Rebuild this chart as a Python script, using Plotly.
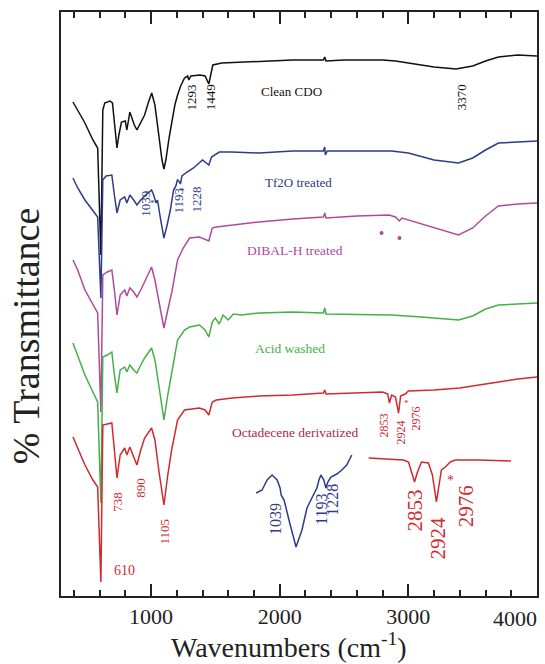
import plotly.graph_objects as go

# ---------------- data (y = relative % transmittance, offset per trace) -------------
BASE = 596  # helper: values below are read as heights

wn_black = [393, 430, 486, 548, 585, 610, 625, 640, 680, 700, 715, 735, 750, 770, 800, 812, 835, 850, 870, 890,
            915, 950, 980, 1005, 1030, 1060, 1085, 1100, 1115, 1140, 1160, 1185, 1206, 1230, 1260, 1285, 1293, 1310,
            1380, 1420, 1449, 1465, 1480, 1550, 1700, 1900, 2100, 2340, 2350, 2360, 2500, 2800, 2900, 3000, 3200,
            3370, 3500, 3600, 3700, 3850, 4000]
px_black = [102, 110, 123, 140, 148, 255, 110, 103, 101, 103, 120, 148, 135, 122, 121, 130, 112, 118, 125, 130,
            124, 115, 102, 93, 105, 135, 160, 169, 160, 138, 123, 105, 95, 86, 78, 76, 80, 76,
            75, 76, 84, 72, 65, 63, 62, 61, 60, 60, 57, 61, 60, 60, 61, 63, 67,
            69, 66, 61, 57, 55, 56]

wn_blue = [393, 430, 486, 548, 585, 610, 625, 650, 695, 715, 735, 760, 795, 812, 835, 865, 890, 920, 950, 1004,
           1020, 1039, 1050, 1075, 1100, 1125, 1150, 1175, 1193, 1205, 1215, 1228, 1240, 1280, 1330, 1400, 1449,
           1470, 1530, 1630, 1840, 2100, 2340, 2350, 2355, 2370, 2870, 3000, 3200, 3390, 3500, 3600, 3700, 3850, 4000]
px_blue = [178, 188, 200, 210, 217, 298, 180, 176, 175, 195, 213, 200, 197, 203, 195, 200, 205, 200, 196, 190,
           195, 203, 200, 220, 238, 225, 210, 190, 186, 180, 181, 184, 176, 172, 168, 160, 165,
           157, 152, 152, 153, 151, 151, 147, 155, 151, 151, 153, 160, 163, 158, 150, 143, 142, 141]

wn_purple = [393, 430, 486, 548, 585, 610, 625, 660, 695, 715, 735, 760, 795, 812, 835, 865, 890, 920, 950, 1004,
             1030, 1060, 1100, 1130, 1160, 1206, 1250, 1300, 1376, 1449, 1476, 1507, 1631, 1840, 2100, 2340, 2350,
             2360, 2600, 2850, 2900, 2930, 2950, 3100, 3300, 3390, 3500, 3600, 3700, 3850, 4000]
px_purple = [260, 270, 290, 305, 313, 412, 275, 272, 270, 290, 315, 295, 290, 296, 288, 292, 297, 290, 282, 267,
             280, 300, 328, 310, 293, 260, 248, 238, 237, 241, 228, 227, 225, 222, 219, 217, 213,
             218, 216, 215, 217, 221, 218, 224, 232, 235, 228, 216, 206, 204, 203]

wn_green = [393, 430, 486, 548, 585, 610, 625, 660, 695, 715, 735, 760, 795, 812, 835, 865, 890, 920, 950, 1004,
            1030, 1060, 1100, 1130, 1160, 1206, 1260, 1300, 1376, 1420, 1449, 1476, 1500, 1530, 1560, 1600, 1640,
            1700, 1840, 2100, 2340, 2350, 2360, 2870, 3100, 3390, 3500, 3600, 3700, 3850, 4000]
px_green = [343, 355, 375, 392, 402, 503, 357, 355, 352, 375, 393, 370, 367, 372, 365, 370, 373, 365, 358, 348,
            360, 385, 420, 395, 373, 340, 330, 327, 325, 330, 337, 322, 318, 324, 315, 320, 314,
            315, 313, 312, 313, 308, 314, 315, 317, 320, 316, 309, 305, 304, 303]

wn_red = [393, 430, 486, 548, 585, 610, 625, 660, 695, 715, 735, 760, 795, 812, 835, 865, 890, 920, 950, 1004,
          1030, 1060, 1100, 1130, 1160, 1206, 1260, 1376, 1420, 1449, 1476, 1507, 1631, 1840, 2100, 2340, 2350,
          2360, 2800, 2840, 2853, 2870, 2900, 2924, 2940, 2976, 3000, 3200, 3400, 3600, 3700, 3850, 4000]
px_red = [437, 448, 465, 480, 487, 582, 425, 424, 423, 450, 478, 455, 448, 455, 447, 457, 465, 450, 438, 428,
          440, 470, 505, 475, 450, 420, 410, 408, 410, 415, 402, 400, 398, 396, 395, 393, 390,
          394, 392, 394, 403, 395, 397, 413, 396, 394, 391, 390, 388, 384, 382, 379, 377]

# expanded insets (drawn on the same axes)
wn_inset_blue = [1817, 1863, 1902, 1941, 1980, 2003, 2011, 2034, 2072, 2127, 2173, 2212, 2250, 2274, 2289, 2305,
                 2320, 2343, 2359, 2374, 2398, 2444, 2483, 2521, 2560]
px_inset_blue = [493, 490, 480, 475, 480, 488, 495, 500, 520, 547, 530, 508, 498, 492, 488, 480,
                 475, 480, 488, 482, 477, 474, 470, 465, 455]
wn_inset_red = [2692, 2846, 2963, 3001, 3024, 3048, 3071, 3102, 3156, 3187, 3218, 3241, 3257, 3288, 3326, 3365,
                3543, 3798]
px_inset_red = [458, 459, 460, 462, 472, 482, 472, 462, 463, 475, 502, 482, 470, 467, 462, 460, 460, 461]

wn_dots = [2792, 2931]
px_dots = [233, 238]

x_ticks = [1000, 2000, 3000]
x_tick_text = ["1000", "2000", "3000"]


def h(vals):
    return [BASE - v for v in vals]


C_BLACK = "#111111"
C_BLUE = "#2e3a8c"
C_PURPLE = "#b04a9e"
C_GREEN = "#44b049"
C_RED = "#d02a2e"
C_LABEL_RED = "#b02848"
FONT = "Liberation Serif"

fig = go.Figure()
for wn, px, col in [(wn_black, px_black, C_BLACK), (wn_blue, px_blue, C_BLUE), (wn_purple, px_purple, C_PURPLE),
                    (wn_green, px_green, C_GREEN), (wn_red, px_red, C_RED),
                    (wn_inset_blue, px_inset_blue, C_BLUE), (wn_inset_red, px_inset_red, C_RED)]:
    fig.add_trace(go.Scatter(x=wn, y=h(px), mode="lines", line=dict(color=col, width=1.5),
                             showlegend=False, hoverinfo="skip"))
fig.add_trace(go.Scatter(x=wn_dots, y=h(px_dots), mode="markers",
                         marker=dict(color=C_PURPLE, size=4), showlegend=False))


def ann(x, py, text, color, size=13, angle=0):
    fig.add_annotation(x=x, y=BASE - py, text=text, showarrow=False, textangle=angle,
                       font=dict(family=FONT, size=size, color=color), xanchor="center", yanchor="middle")


def wx(px):
    return 300 + (px - 61) * 7.74


ann(wx(292), 91, "Clean CDO", C_BLACK, 13)
ann(wx(192), 97, "1293", C_BLACK, 13, -90)
ann(wx(211), 97, "1449", C_BLACK, 13, -90)
ann(wx(463), 97, "3370", C_BLACK, 13, -90)

ann(wx(300), 182, "Tf2O treated", C_BLUE, 13)
ann(wx(145), 204, "1039", C_BLUE, 13, -90)
ann(wx(153), 203, "*", C_BLUE, 9)
ann(wx(178), 201, "1193", C_BLUE, 13, -90)
ann(wx(183), 191, "*", C_BLUE, 9)
ann(wx(197), 199, "1228", C_BLUE, 13, -90)

ann(wx(296), 250, "DIBAL-H treated", C_PURPLE, 13.5)
ann(wx(291), 348, "Acid washed", C_GREEN, 13.5)
ann(wx(296), 432, "Octadecene derivatized", C_LABEL_RED, 13.5)

ann(wx(385), 426, "2853", C_RED, 12, -90)
ann(wx(402), 433, "2924", C_RED, 12, -90)
ann(wx(408), 403, "*", C_RED, 9)
ann(wx(418), 418, "2976", C_RED, 12, -90)

ann(wx(117), 502, "738", C_RED, 13, -90)
ann(wx(140), 488, "890", C_RED, 13, -90)
ann(wx(164), 532, "1105", C_RED, 13, -90)
ann(wx(125), 570, "610", C_RED, 14)

ann(wx(276), 519, "1039", C_BLUE, 16, -90)
ann(wx(322), 509, "1193", C_BLUE, 16, -90)
ann(wx(333), 500, "1228", C_BLUE, 16, -90)

ann(wx(417), 510, "2853", C_RED, 21, -90)
ann(wx(440), 538, "2924", C_RED, 21, -90)
ann(wx(468), 506, "2976", C_RED, 21, -90)
ann(wx(452), 480, "*", C_RED, 14)

# 4000 tick label kept inside the picture
fig.add_annotation(x=4000, y=0, yref="y", text="4000", showarrow=False, xanchor="right", yanchor="top",
                   yshift=-8, xshift=2, font=dict(family=FONT, size=22, color="#222"))

# axis titles
fig.add_annotation(xref="paper", yref="paper", x=(290 - 61) / 478, y=(596 - 645) / 584,
                   text="Wavenumbers (cm<sup>-1</sup>)", showarrow=False, xanchor="center", yanchor="middle",
                   font=dict(family=FONT, size=28, color="#222"))
fig.add_annotation(xref="paper", yref="paper", x=(26 - 61) / 478, y=(596 - 336) / 584,
                   text="% Transmittance", showarrow=False, textangle=-90, xanchor="center", yanchor="middle",
                   font=dict(family=FONT, size=38, color="#222"))

fig.update_layout(
    width=545, height=664,
    margin=dict(l=61, r=6, t=12, b=68),
    paper_bgcolor="white", plot_bgcolor="white",
    showlegend=False,
    xaxis=dict(range=[300, 4000], tickmode="array", tickvals=x_ticks, ticktext=x_tick_text,
               ticks="inside", ticklen=12, tickwidth=1.5, tickcolor="#222",
               minor=dict(tick0=0, dtick=200, ticks="inside", ticklen=6, tickwidth=1.5, tickcolor="#222"),
               showline=True, linecolor="#222", linewidth=2, mirror="allticks",
               showgrid=False, zeroline=False,
               tickfont=dict(family=FONT, size=22, color="#222")),
    yaxis=dict(range=[0, 584], showticklabels=False, ticks="", showline=True, linecolor="#222",
               linewidth=2, mirror=True, showgrid=False, zeroline=False),
)

fig.write_html("out.html", config={"displayModeBar": False},
               post_script="document.body.style.margin='0px';")
